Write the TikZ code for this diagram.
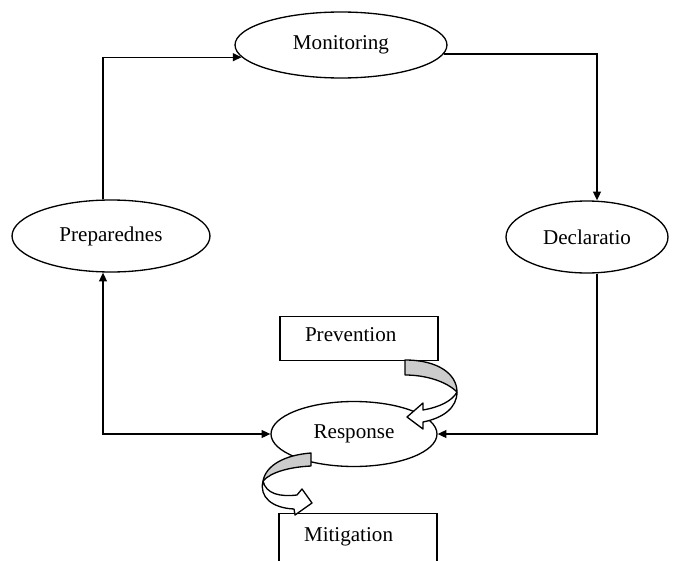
\documentclass[tikz,border=0pt]{standalone}
\usepackage{fontspec}
\setmainfont{Liberation Serif}
\usetikzlibrary{shapes.geometric, arrows.meta, positioning, calc}

\tikzset{
  stage/.style={ellipse, draw, line width=0.75pt, inner sep=0pt},
  textbox/.style={draw, line width=0.75pt, text width=2.16cm, align=left, inner xsep=0.5cm, inner ysep=0.15cm},
  link/.style={line width=0.75pt, -{Triangle[length=5pt,width=4.5pt]}},
  curlarrow/.style={draw, line width=0.75pt, line join=round}
}

\begin{document}
\begin{tikzpicture}[x=0.02cm, y=-0.02cm, font=\fontsize{12}{14}\selectfont]
\clip (0,0) rectangle (680,561);
\fill[white] (0,0) rectangle (680,561);

% cycle stages
\node[stage, minimum width=4.24cm, minimum height=1.32cm] (monitoring) at (341,45) {Monitoring};
\node[stage, minimum width=3.96cm, minimum height=1.44cm] (prep) at (111,236) {Preparednes};
\node[stage, minimum width=3.24cm, minimum height=1.44cm] (decl) at (587,237) {Declaratio};
\node[stage, minimum width=3.32cm, minimum height=1.3cm] (response) at (354,434) {Response};

% side boxes
\node[textbox, anchor=north, text height=0.35cm, text depth=0.23cm] (prevention) at (359,316) {Prevention};
\node[textbox, anchor=north, text height=0.41cm, text depth=0.53cm] (mitigation) at (358,513) {Mitigation};

\coordinate (lc) at (103,0);
\coordinate (rc) at (597,0);

% connectors
\draw[link] (prep.north -| lc) |- (monitoring.187);
\draw[link] (monitoring.355) -| (decl.north -| rc);
\draw[link] (decl.south -| rc) |- (response.east);
\draw[link, {Triangle[length=5pt,width=4.5pt]}-{Triangle[length=5pt,width=4.5pt]}] (prep.south -| lc) |- (response.west);

% curved arrow from prevention
\filldraw[curlarrow, fill=gray!40] (405,360) .. controls (438,360) and (457,374) .. (457,392) .. controls (447,382) and (427,375) .. (405,375) -- cycle;
\filldraw[curlarrow, fill=white] (457,392) .. controls (457,408) and (443,418) .. (423,422) -- (423,429) -- (407,417) -- (423,403) -- (423,410) .. controls (440,407) and (452,401) .. (457,392);

% curved arrow to mitigation
\filldraw[curlarrow, fill=gray!40] (311,453) -- (311,466) .. controls (290,467) and (271,472) .. (263,481) .. controls (266,465) and (285,455) .. (311,453) -- cycle;
\filldraw[curlarrow, fill=white] (263,481) .. controls (266,494) and (280,497) .. (297,495) -- (302,489) -- (312,503) -- (295,515) -- (294,509) .. controls (272,508) and (259,497) .. (263,481);
\end{tikzpicture}
\end{document}
